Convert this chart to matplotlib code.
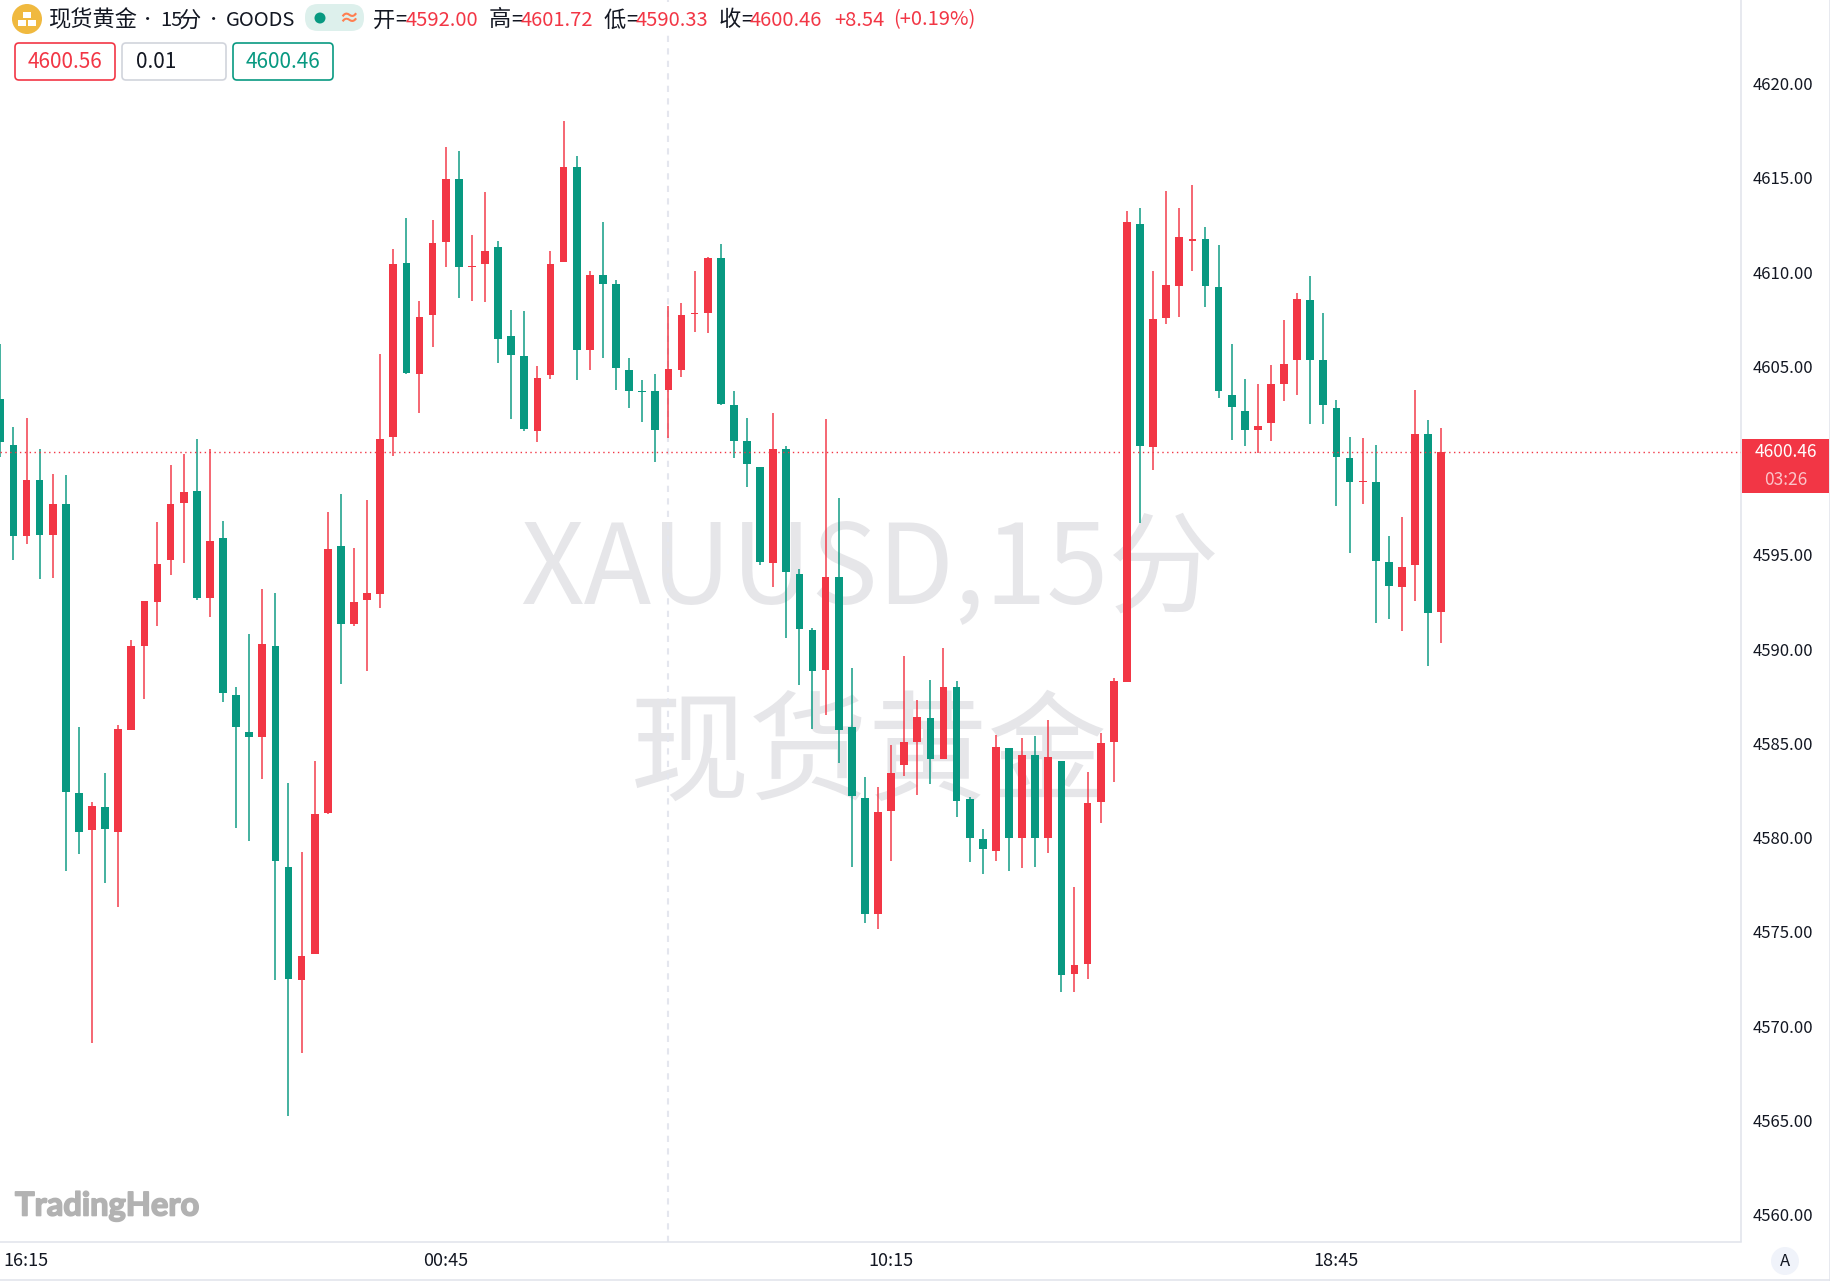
import numpy as np
import matplotlib
matplotlib.use("Agg")
import matplotlib.pyplot as plt
import matplotlib.patheffects as pe
from matplotlib.patches import Circle, FancyBboxPatch, Rectangle
from matplotlib.transforms import ScaledTranslation

plt.rcParams['font.family'] = ['Noto Sans CJK SC', 'DejaVu Sans']

# 15 minute candles, oldest first
opens = [4603.27,4600.85,4595.98,4599.00,4596.06,4597.72,4582.38,4580.39,4581.63,4580.32,
         4585.72,4590.19,4592.50,4594.71,4597.76,4598.40,4592.72,4595.91,4587.56,4585.61,
         4585.33,4590.19,4578.44,4572.43,4573.82,4581.31,4595.49,4591.33,4592.61,4592.93,
         4601.28,4610.48,4604.62,4607.74,4611.61,4614.95,4610.26,4610.44,4611.33,4606.64,
         4605.58,4601.56,4604.55,4610.55,4615.59,4605.86,4609.84,4609.38,4604.83,4603.69,
         4603.69,4603.76,4604.83,4607.78,4607.85,4610.73,4602.98,4601.06,4599.68,4594.60,
         4600.64,4593.99,4591.01,4588.91,4593.85,4585.86,4582.13,4575.95,4581.42,4583.84,
         4585.06,4586.34,4584.16,4587.98,4582.04,4579.95,4579.27,4584.74,4579.98,4584.38,
         4579.98,4584.09,4572.78,4573.32,4581.91,4585.06,4588.27,4612.58,4600.75,4607.57,
         4609.27,4611.68,4611.78,4609.24,4603.48,4602.65,4601.65,4602.00,4604.09,4605.32,
         4608.53,4605.32,4602.81,4600.14,4598.88,4598.88,4594.64,4593.32,4594.45,4601.42,
         4592.00]
highs = [4606.18,4601.81,4602.24,4600.64,4599.29,4599.22,4585.90,4581.92,4583.44,4585.97,
         4590.51,4592.57,4596.77,4599.75,4600.35,4601.13,4600.64,4596.80,4587.99,4590.80,
         4593.18,4593.00,4582.88,4579.22,4584.08,4597.30,4598.22,4595.38,4597.94,4605.68,
         4611.22,4612.89,4608.49,4612.79,4616.66,4616.45,4611.97,4614.28,4611.65,4607.99,
         4607.92,4605.04,4611.15,4618.01,4616.16,4610.09,4612.64,4609.59,4605.43,4604.26,
         4604.58,4608.20,4608.35,4610.05,4610.83,4611.47,4603.69,4602.24,4599.68,4602.52,
         4600.78,4594.28,4591.15,4602.20,4598.04,4589.02,4583.23,4582.70,4584.90,4589.62,
         4587.28,4588.37,4590.04,4588.34,4582.16,4580.46,4585.44,4584.74,4585.28,4585.41,
         4586.25,4584.09,4577.41,4583.51,4585.57,4588.47,4613.26,4613.39,4610.07,4614.32,
         4613.42,4614.64,4612.42,4611.42,4606.18,4604.32,4604.06,4605.09,4607.47,4608.92,
         4609.82,4607.86,4603.23,4601.26,4601.20,4600.81,4596.02,4596.99,4603.74,4602.16,
         4601.72]
lows = [4600.21,4594.71,4595.59,4593.71,4593.78,4578.22,4579.15,4569.13,4577.62,4576.34,
        4585.72,4587.35,4591.22,4593.96,4594.60,4592.61,4591.72,4587.21,4580.53,4579.82,
        4583.09,4572.43,4565.22,4568.56,4573.82,4581.24,4588.17,4591.22,4588.84,4592.18,
        4600.25,4604.58,4602.52,4606.04,4610.26,4608.63,4608.49,4608.42,4605.18,4602.20,
        4601.60,4600.99,4604.33,4610.55,4604.30,4604.83,4605.47,4603.76,4602.80,4602.06,
        4599.93,4601.21,4604.44,4606.85,4606.75,4602.95,4600.14,4598.61,4594.46,4593.28,
        4590.62,4588.10,4585.79,4586.50,4583.94,4578.44,4575.45,4575.17,4578.76,4583.26,
        4582.29,4582.87,4584.16,4581.10,4578.69,4578.05,4578.79,4578.21,4578.37,4578.43,
        4579.17,4571.81,4571.81,4572.49,4580.78,4582.94,4588.27,4596.70,4599.50,4607.24,
        4607.63,4610.04,4608.18,4603.35,4601.10,4600.78,4600.40,4601.04,4603.16,4603.51,
        4601.97,4601.97,4597.60,4595.09,4597.69,4591.39,4591.59,4590.94,4592.58,4589.11,
        4590.33]
closes = [4600.99,4596.02,4598.97,4596.06,4597.69,4582.45,4580.32,4581.67,4580.46,4585.79,
          4590.19,4592.57,4594.53,4597.69,4598.36,4592.72,4595.74,4587.67,4585.86,4585.33,
          4590.26,4578.75,4572.50,4573.75,4581.28,4595.31,4591.33,4592.50,4593.00,4601.17,
          4610.44,4604.65,4607.64,4611.54,4614.92,4610.26,4610.34,4611.15,4606.46,4605.61,
          4601.70,4604.40,4610.41,4615.59,4605.86,4609.87,4609.38,4604.90,4603.69,4603.62,
          4601.63,4604.86,4607.74,4607.85,4610.76,4603.02,4601.03,4599.82,4594.63,4600.64,
          4594.07,4591.08,4588.84,4593.85,4585.72,4582.20,4575.95,4581.38,4583.42,4585.06,
          4586.38,4584.16,4587.98,4581.94,4579.98,4579.40,4584.80,4579.98,4584.41,4579.98,
          4584.29,4572.74,4573.26,4581.84,4585.03,4588.31,4612.68,4600.78,4607.53,4609.30,
          4611.87,4611.75,4609.27,4603.68,4602.84,4601.65,4601.84,4604.06,4605.15,4608.60,
          4605.32,4602.94,4600.20,4598.85,4598.95,4594.67,4593.35,4594.38,4601.42,4591.91,
          4600.46]

time_ticks = [0, 34, 68, 102]
time_labels = ["16:15", "00:45", "10:15", "18:45"]
# 4600.00 sits behind the last price tag in the chart
price_ticks = [4560, 4565, 4570, 4575, 4580, 4585, 4590, 4595, 4605, 4610, 4615, 4620]
session_break = 51
last_price = 4600.46

RED = "#F23645"
GREEN = "#089981"
LINE = "#E0E3EB"
INK = "#131722"

W, H = 1831, 1281
fig = plt.figure(figsize=(W/100, H/100), dpi=100, facecolor="white")

# main chart, 1742 x 1242 px from the top left corner
ax = fig.add_axes([0, 1-1241.5/H, 1741.5/W, 1241.5/H])
ax.set_xlim(-0.023, 132.92)
ax.set_ylim(4558.58, 4624.44)

x = np.arange(len(opens))
o, h, l, c = map(np.array, (opens, highs, lows, closes))
up = c >= o
cols = np.where(up, RED, GREEN)

ax.vlines(x, l, h, colors=cols, linewidth=1.25, alpha=0.85, zorder=3)
ax.bar(x, np.abs(c-o), bottom=np.minimum(o, c), width=0.59, color=cols, linewidth=0, zorder=4)

ax.axvline(session_break, color="#E4E6EE", lw=1.5, ls=(0, (3, 3)), zorder=1)
ax.axhline(last_price, color=RED, lw=1.0, ls=(0, (1, 2.5)), zorder=5)

ax.yaxis.tick_right()
ax.set_yticks(price_ticks, ["%.2f" % p for p in price_ticks])
ax.set_xticks(time_ticks, time_labels)
ax.tick_params(axis="y", length=0, pad=8, labelsize=12, labelcolor=INK)
ax.tick_params(axis="x", length=0, pad=7.5, labelsize=13, labelcolor=INK)
first = ax.get_xticklabels()[0]
first.set_ha("left")
first.set_transform(first.get_transform() + ScaledTranslation(3/100, 0, fig.dpi_scale_trans))
for s in ("top", "left"):
    ax.spines[s].set_visible(False)
for s in ("right", "bottom"):
    ax.spines[s].set_color(LINE)
    ax.spines[s].set_linewidth(1.1)

# big watermark under the candles
px = lambda a, b: (a/W, 1-b/H)
wm = dict(transform=fig.transFigure, color="#E6E6E9", ha="center", va="center", zorder=0)
ax.text(*px(870, 572), "XAUUSD,15分", fontsize=80, **wm)
ax.text(*px(869, 757), "现货黄金", fontsize=86, **wm)

# header, last price tag and the rest, in pixel coordinates
ui = fig.add_axes([0, 0, 1, 1], facecolor="none", zorder=5)
ui.set_xlim(0, W)
ui.set_ylim(H, 0)
ui.axis("off")

ui.add_patch(Rectangle((44, 2), 930, 32, fc="white", ec="none"))
ui.add_patch(Circle((27, 19), 15, fc="#F0B93F", ec="none"))
for bx, by in ((23, 12), (18, 20), (28, 20)):
    ui.add_patch(Rectangle((bx, by), 8, 6, fc="white", ec="none"))

TY = 20
CJK = 16
NUM = 14.5
ui.text(48, TY, "现货黄金", fontsize=CJK, color=INK, va="center")
ui.text(148, TY, "•", fontsize=11, color=INK, va="center", ha="center")
ui.text(160, TY, "15", fontsize=NUM, color=INK, va="center")
ui.text(179, TY, "分", fontsize=CJK, color=INK, va="center")
ui.text(214, TY, "•", fontsize=11, color=INK, va="center", ha="center")
ui.text(226, TY, "GOODS", fontsize=NUM, color=INK, va="center")

ui.add_patch(FancyBboxPatch((305, 4), 59, 27, boxstyle="round,pad=0,rounding_size=13",
                            fc="#DDF0EC", ec="none"))
ui.add_patch(Circle((320, 18), 5.5, fc=GREEN, ec="none"))
ui.text(349, 18, "≈", fontsize=15, color="#FF7F50", ha="center", va="center", fontweight="bold")

for lab_x, lab, val_x, val in ((373, "开", 406, "4592.00"), (489, "高", 521, "4601.72"),
                               (604, "低", 636, "4590.33"), (719, "收", 750, "4600.46")):
    ui.text(lab_x, TY, lab, fontsize=CJK, color=INK, va="center")
    ui.text(lab_x+22, TY, "=", fontsize=NUM, color=INK, va="center")
    ui.text(val_x, TY, val, fontsize=NUM, color=RED, va="center")
ui.text(834, TY, "+8.54", fontsize=NUM, color=RED, va="center")
ui.text(893, TY, "(+0.19%)", fontsize=NUM, color=RED, va="center")

for bx, bw, ec, tx, ha, txt, tc in ((15, 100, RED, 65, "center", "4600.56", RED),
                                    (122, 104, "#D1D4DC", 136, "left", "0.01", INK),
                                    (233, 100, GREEN, 283, "center", "4600.46", GREEN)):
    ui.add_patch(FancyBboxPatch((bx, 43), bw, 37, boxstyle="round,pad=0,rounding_size=4",
                                fc="white", ec=ec, lw=1.2))
    ui.text(tx, 62, txt, fontsize=15, color=tc, ha=ha, va="center")

ui.add_patch(Rectangle((1742, 439), 87, 54, fc=RED, ec="none"))
ui.text(1785.5, 452, "4600.46", fontsize=12.5, color="white", ha="center", va="center")
ui.text(1785.5, 480, "03:26", fontsize=12.5, color="#FBC4C9", ha="center", va="center")

ui.text(15, 1206, "TradingHero", fontsize=23.5, color="#B2B2B2", va="center",
        family="Lato", fontweight="bold",
        path_effects=[pe.withStroke(linewidth=1.2, foreground="#B2B2B2")])

ui.plot([0, W], [1280, 1280], color=LINE, lw=1.1)
ui.plot([1830, 1830], [0, H], color=LINE, lw=1.1)
ui.add_patch(Circle((1785, 1261), 14, fc="#F0F3FA", ec="none"))
ui.text(1785, 1261, "A", fontsize=12, color=INK, ha="center", va="center")

fig.savefig("out.png", dpi=100)
